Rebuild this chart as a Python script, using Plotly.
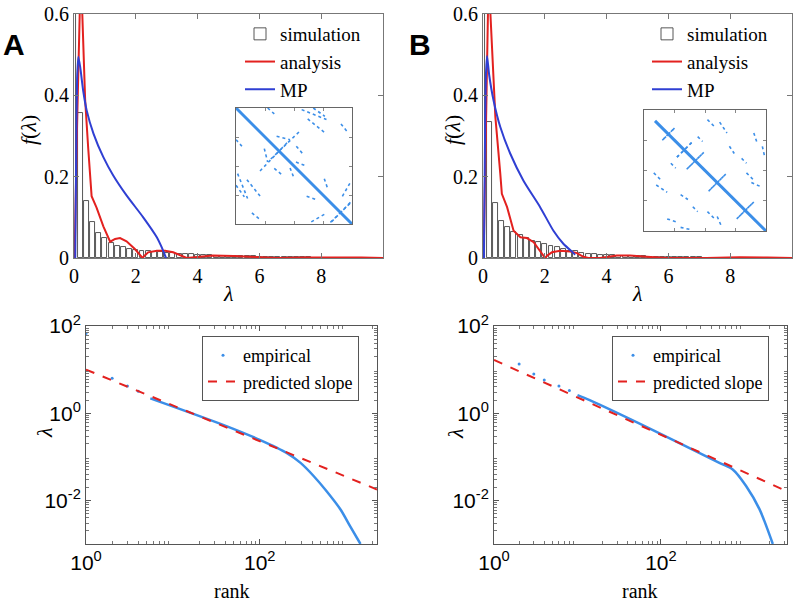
import plotly.graph_objects as go

W, H = 796, 604

# ---------------- data: top panels (histogram + curves) ----------------
bin_centers = [round(0.2 * i, 1) for i in range(50)]
hist_A = [0.66, 0.357, 0.140, 0.088, 0.062, 0.048, 0.037, 0.030, 0.026, 0.022,
          0.019, 0.017, 0.016, 0.015, 0.014, 0.013, 0.012, 0.011, 0.010, 0.009,
          0.008, 0.008, 0.007, 0.006, 0.006, 0.005, 0.005, 0.004, 0.004, 0.004,
          0.003, 0.003, 0.003, 0.003, 0.002, 0.002, 0.002, 0.002, 0.002, 0.001,
          0.001, 0.001, 0.001, 0.001, 0.001, 0.001, 0.001, 0.001, 0.001, 0.001]
hist_B = [0.66, 0.335, 0.136, 0.091, 0.076, 0.065, 0.056, 0.049, 0.043, 0.040,
          0.034, 0.030, 0.026, 0.022, 0.018, 0.016, 0.013, 0.011, 0.010, 0.008,
          0.007, 0.007, 0.006, 0.005, 0.005, 0.004, 0.004, 0.003, 0.003, 0.003,
          0.003, 0.002, 0.002, 0.002, 0.002, 0.002, 0.001, 0.001, 0.001, 0.001,
          0.001, 0.001, 0.001, 0.001, 0.001, 0.001, 0.001, 0.001, 0.001, 0.001]

analysis_A_x = [0.0, 0.02, 0.10, 0.17, 0.21, 0.26, 0.36, 0.46, 0.57, 0.73, 0.95, 1.17,
                1.33, 1.49, 1.70, 1.97, 2.10, 2.22, 2.30, 2.40, 2.68, 2.95, 3.21, 3.43,
                3.65, 4.08, 4.50, 5.16, 5.80, 6.56, 7.50, 8.50, 9.30, 10.0]
analysis_A_y = [0.0, 0.0, 0.33, 0.62, 0.68, 0.62, 0.39, 0.27, 0.152, 0.124, 0.078, 0.040,
                0.047, 0.049, 0.041, 0.022, 0.010, 0.0, 0.007, 0.014, 0.018, 0.018, 0.014, 0.006,
                0.0, 0.003, 0.006, 0.005, 0.002, 0.0, 0.001, 0.002, 0.001, 0.0]
mp_A_x = [0.04, 0.07, 0.10, 0.14, 0.20, 0.30, 0.41, 0.63, 0.95, 1.27, 1.70, 2.24, 2.68, 2.84, 2.98]
mp_A_y = [0.0, 0.25, 0.44, 0.495, 0.47, 0.41, 0.363, 0.306, 0.248, 0.203, 0.154, 0.100, 0.051, 0.026, 0.0]

analysis_B_x = [0.0, 0.02, 0.16, 0.20, 0.24, 0.40, 0.56, 0.61, 0.78, 0.99, 1.21, 1.42,
                1.64, 1.85, 1.94, 2.01, 2.08, 2.23, 2.50, 2.82, 3.04, 3.25, 3.41, 3.79,
                4.33, 4.76, 5.30, 5.94, 7.23, 8.30, 9.20, 10.0]
analysis_B_y = [0.0, 0.0, 0.60, 0.67, 0.60, 0.347, 0.207, 0.158, 0.125, 0.067, 0.051, 0.049,
                0.039, 0.016, 0.006, 0.0, 0.006, 0.014, 0.018, 0.016, 0.012, 0.003, 0.0, 0.0,
                0.006, 0.006, 0.003, 0.0, 0.0, 0.002, 0.001, 0.0]
mp_B_x = [0.03, 0.06, 0.09, 0.13, 0.20, 0.34, 0.56, 0.88, 1.31, 1.85, 2.28, 2.60, 2.93, 2.98]
mp_B_y = [0.0, 0.25, 0.44, 0.497, 0.45, 0.388, 0.322, 0.257, 0.190, 0.125, 0.067, 0.035, 0.012, 0.008]

# ---------------- data: bottom panels (rank plots) ----------------
emp_dots_A_rank = [1, 2, 3, 4]
emp_dots_A_lam = [67.6, 6.3, 4.2, 3.2]
emp_A_rank = [5.5, 42, 100, 204, 295, 417, 589, 851, 1096, 1445]
emp_A_lam = [2.19, 0.50, 0.245, 0.123, 0.0724, 0.0363, 0.0162, 0.00617, 0.00257, 0.001]
pred_A_rank = [1, 2239]
pred_A_lam = [10.0, 0.0178]

emp_dots_B_rank = [2, 3, 4, 6, 8]
emp_dots_B_lam = [13.5, 7.9, 5.75, 4.2, 3.3]
emp_B_rank = [10, 14, 79, 501, 724, 1047, 1514, 2188]
emp_B_lam = [2.6, 2.0, 0.417, 0.0724, 0.0513, 0.0214, 0.0063, 0.001]
pred_B_rank = [1, 3236]
pred_B_lam = [16.6, 0.0162]

# ---------------- data: inset contact maps (segments u0,v0,u1,v1 in upper triangle) ----------------
inset_A_diag = [0.0, 0.0, 1.0, 1.0]
inset_A_segs = [
    [0.566, 0.014, 0.78, 0.10],
    [0.666, 0.0, 0.766, 0.072],
    [0.905, 0.137, 0.963, 0.209],
    [0.30, 0.44, 0.55, 0.20],
    [0.814, 0.986, 0.986, 0.819],
    [0.917, 0.761, 0.986, 0.641],
    [0.517, 0.466, 0.589, 0.494],
    [0.761, 0.609, 0.79, 0.694],
    [0.273, 0.0, 0.33, 0.051],
    [0.35, 0.244, 0.466, 0.273],
    [0.618, 0.094, 0.761, 0.209],
    [0.52, 0.33, 0.58, 0.40],
]
inset_B_diag = [0.09, 0.09, 1.0, 1.0]
inset_B_segs = [
    [0.15, 0.25, 0.25, 0.15],
    [0.27, 0.39, 0.39, 0.27],
    [0.35, 0.49, 0.49, 0.35],
    [0.53, 0.67, 0.67, 0.53],
    [0.76, 0.90, 0.90, 0.76],
    [0.52, 0.08, 0.58, 0.14],
    [0.62, 0.10, 0.68, 0.19],
    [0.90, 0.19, 0.93, 0.28],
    [0.97, 0.30, 0.99, 0.39],
    [0.84, 0.52, 0.90, 0.58],
    [0.88, 0.60, 0.95, 0.63],
    [0.70, 0.30, 0.74, 0.36],
    [0.44, 0.22, 0.48, 0.26],
    [0.80, 0.40, 0.84, 0.44],
]

# ---------------- styling ----------------
RED = "#e3211f"
BLUE = "#2f3fd3"
EMP = "#3b8ee8"
SERIF = "Liberation Serif"
SANS = "Liberation Sans"


def px_x(p):
    return p / W


def px_y(p):
    return 1 - p / H


fig = go.Figure()

# top panels
for hist, ax_x, ax_y, ay, bx, mx, my, leg in [
    (hist_A, analysis_A_x, analysis_A_y, "y", "x", mp_A_x, mp_A_y, "legend"),
    (hist_B, analysis_B_x, analysis_B_y, "y2", "x2", mp_B_x, mp_B_y, "legend2"),
]:
    fig.add_trace(go.Bar(x=bin_centers, y=hist, width=0.16, name="simulation",
                         marker=dict(color="white", line=dict(color="#444", width=0.9)),
                         xaxis=bx, yaxis=ay, legend=leg))
    fig.add_trace(go.Scatter(x=ax_x, y=ax_y, mode="lines", name="analysis",
                             line=dict(color=RED, width=2), xaxis=bx, yaxis=ay, legend=leg))
    fig.add_trace(go.Scatter(x=mx, y=my, mode="lines", name="MP", line=dict(color=BLUE, width=2, shape="spline", smoothing=0.6),
                             xaxis=bx, yaxis=ay, legend=leg))

# bottom panels
for dr, dl, er, el, pr, pl, bx, ay, leg in [
    (emp_dots_A_rank, emp_dots_A_lam, emp_A_rank, emp_A_lam, pred_A_rank, pred_A_lam, "x3", "y3", "legend3"),
    (emp_dots_B_rank, emp_dots_B_lam, emp_B_rank, emp_B_lam, pred_B_rank, pred_B_lam, "x4", "y4", "legend4"),
]:
    fig.add_trace(go.Scatter(x=dr, y=dl, mode="markers", name="empirical",
                             marker=dict(color=EMP, size=3), xaxis=bx, yaxis=ay, legend=leg))
    fig.add_trace(go.Scatter(x=er, y=el, mode="lines", showlegend=False,
                             line=dict(color=EMP, width=2.5, shape="spline", smoothing=0.8),
                             xaxis=bx, yaxis=ay))
    fig.add_trace(go.Scatter(x=pr, y=pl, mode="lines", name="predicted slope",
                             line=dict(color=RED, width=2, dash="dash"), xaxis=bx, yaxis=ay, legend=leg))

# insets
for diag, segs, bx, ay in [(inset_A_diag, inset_A_segs, "x5", "y5"), (inset_B_diag, inset_B_segs, "x6", "y6")]:
    fig.add_trace(go.Scatter(x=[diag[0], diag[2]], y=[diag[1], diag[3]], mode="lines", showlegend=False,
                             line=dict(color=EMP, width=3), xaxis=bx, yaxis=ay))
    xs, ys = [], []
    for u0, v0, u1, v1 in segs:
        xs += [u0, u1, None, v0, v1, None]
        ys += [v0, v1, None, u0, u1, None]
    fig.add_trace(go.Scatter(x=xs, y=ys, mode="lines", showlegend=False,
                             line=dict(color=EMP, width=1.6, dash="dot"), xaxis=bx, yaxis=ay))

top_common = dict(showline=True, linecolor="#777", linewidth=1, mirror="ticks", ticks="inside",
                  ticklen=5, tickcolor="#777", showgrid=False, zeroline=False, automargin=False,
                  tickfont=dict(family=SERIF, size=20, color="black"))
bot_common = dict(showline=True, linecolor="#555", linewidth=1, mirror="ticks", ticks="inside",
                  ticklen=5, tickcolor="#555", showgrid=False, zeroline=False, type="log", automargin=False,
                  tickfont=dict(family=SANS, size=21, color="black"))
ins_common = dict(showline=True, linecolor="#666", linewidth=1, mirror="ticks", ticks="inside",
                  ticklen=3, tickcolor="#888", showgrid=False, zeroline=False, showticklabels=False,
                  automargin=False, tickvals=[0.25, 0.5, 0.75])

minor_x = dict(ticks="inside", ticklen=3, tickcolor="#777",
               tickvals=[m * 10 ** e for e in range(0, 4) for m in range(2, 10)])
minor_y = dict(ticks="inside", ticklen=3, tickcolor="#777",
               tickvals=[m * 10 ** e for e in range(-3, 2) for m in range(2, 10)])

yt_vals = [0.01, 1, 100]
yt_text = ["10<sup>-2</sup>", "10<sup>0</sup>", "10<sup>2</sup>"]
xt_vals = [1, 100]
xt_text = ["10<sup>0</sup>", "10<sup>2</sup>"]

fig.update_layout(
    width=W, height=H, margin=dict(l=0, r=0, t=0, b=0, pad=0, autoexpand=False),
    paper_bgcolor="white", plot_bgcolor="white", bargap=0,
    xaxis=dict(domain=[px_x(74), px_x(383)], range=[0, 10], tickvals=[0, 2, 4, 6, 8], anchor="y", **top_common),
    yaxis=dict(domain=[px_y(258), px_y(14)], range=[0, 0.6], tickvals=[0, 0.2, 0.4, 0.6], anchor="x", **top_common),
    xaxis2=dict(domain=[px_x(483), px_x(792)], range=[0, 10], tickvals=[0, 2, 4, 6, 8], anchor="y2", **top_common),
    yaxis2=dict(domain=[px_y(258), px_y(14)], range=[0, 0.6], tickvals=[0, 0.2, 0.4, 0.6], anchor="x2", **top_common),
    xaxis3=dict(domain=[px_x(86), px_x(377)], range=[0, 3.35], tickvals=xt_vals, ticktext=xt_text,
                minor=minor_x, anchor="y3", **bot_common),
    yaxis3=dict(domain=[px_y(544), px_y(326)], range=[-3, 2], tickvals=yt_vals, ticktext=yt_text,
                minor=minor_y, anchor="x3", **bot_common),
    xaxis4=dict(domain=[px_x(494), px_x(787)], range=[0, 3.51], tickvals=xt_vals, ticktext=xt_text,
                minor=minor_x, anchor="y4", **bot_common),
    yaxis4=dict(domain=[px_y(544), px_y(326)], range=[-3, 2], tickvals=yt_vals, ticktext=yt_text,
                minor=minor_y, anchor="x4", **bot_common),
    xaxis5=dict(domain=[px_x(236), px_x(352)], range=[0, 1], anchor="y5", **ins_common),
    yaxis5=dict(domain=[px_y(224), px_y(108)], range=[1, 0], anchor="x5", **ins_common),
    xaxis6=dict(domain=[px_x(644), px_x(766)], range=[0, 1], anchor="y6", **ins_common),
    yaxis6=dict(domain=[px_y(231), px_y(110)], range=[1, 0], anchor="x6", **ins_common),
    legend=dict(x=px_x(240), y=px_y(15), xanchor="left", yanchor="top", bgcolor="rgba(0,0,0,0)",
                font=dict(family=SERIF, size=19, color="black"), tracegroupgap=0, itemwidth=30),
    legend2=dict(x=px_x(647), y=px_y(15), xanchor="left", yanchor="top", bgcolor="rgba(0,0,0,0)",
                 font=dict(family=SERIF, size=19, color="black"), tracegroupgap=0, itemwidth=30),
    legend3=dict(x=px_x(202), y=px_y(336), xanchor="left", yanchor="top", bgcolor="white",
                 bordercolor="#555", borderwidth=1,
                 font=dict(family=SERIF, size=18, color="black"), tracegroupgap=0, itemwidth=30),
    legend4=dict(x=px_x(612), y=px_y(336), xanchor="left", yanchor="top", bgcolor="white",
                 bordercolor="#555", borderwidth=1,
                 font=dict(family=SERIF, size=18, color="black"), tracegroupgap=0, itemwidth=30),
    showlegend=True,
)

annots = [
    ("<i>λ</i>", 228, 293, 0, SERIF, 22),
    ("<i>λ</i>", 637, 293, 0, SERIF, 22),
    ("<i>f</i>(<i>λ</i>)", 28, 130, -90, SERIF, 22),
    ("<i>f</i>(<i>λ</i>)", 452, 130, -90, SERIF, 22),
    ("<i>λ</i>", 44, 433, -90, SERIF, 22),
    ("<i>λ</i>", 455, 433, -90, SERIF, 22),
    ("rank", 232, 591, 0, SERIF, 20),
    ("rank", 640, 591, 0, SERIF, 20),
    ("<b>A</b>", 14, 44, 0, SANS, 30),
    ("<b>B</b>", 420, 44, 0, SANS, 30),
]
for text, x, y, ang, fam, size in annots:
    fig.add_annotation(text=text, x=px_x(x), y=px_y(y), xref="paper", yref="paper",
                       showarrow=False, textangle=ang, xanchor="center", yanchor="middle",
                       font=dict(family=fam, size=size, color="black"))

# remove the browser's default 8px body margin so the 796x604 figure fills the window
fig.write_html("out.html", config={"displayModeBar": False},
               post_script="document.body.style.margin='0px';")
